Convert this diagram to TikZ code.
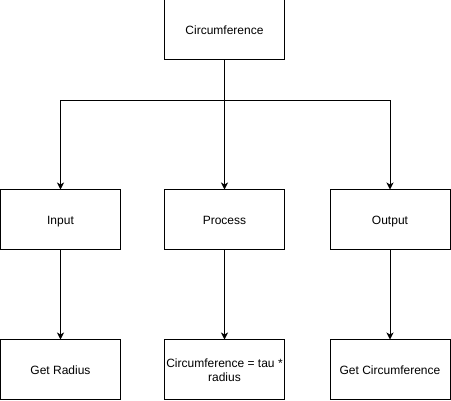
\documentclass[tikz,border=0pt]{standalone}
\usepackage{fontspec}
\setmainfont{Liberation Sans}
\usetikzlibrary{arrows.meta}
\begin{document}
\begin{tikzpicture}[x=1pt,y=-1pt,
  box/.style={draw, line width=1pt, minimum width=120pt, minimum height=60pt, inner sep=0pt, align=center, font=\fontsize{12}{14}\selectfont},
  onel/.style={text height=8.6pt, text depth=0pt},
  conn/.style={draw, line width=1pt, -{Stealth[length=7pt,width=7pt,inset=2pt]}}]
\useasboundingbox (0,0) rectangle (451,401);
\node[box,onel] (circ) at (224.5,30) {Circumference};
\node[box,onel] (inp) at (60.5,220) {Input};
\node[box,onel] (proc) at (224.5,220) {Process};
\node[box,onel] (outp) at (390,220) {Output};
\node[box,onel] (rad) at (60.5,370) {Get Radius};
\node[box] (calc) at (224.5,370) {Circumference = tau *\\ radius};
\node[box,onel] (gc) at (390,370) {Get Circumference};
\draw[conn] (circ.south) -- ++(0,40) -| (inp.north);
\draw[conn] (circ.south) -- (proc.north);
\draw[conn] (circ.south) -- ++(0,40) -| (outp.north);
\draw[conn] (inp.south) -- (rad.north);
\draw[conn] (proc.south) -- (calc.north);
\draw[conn] (outp.south) -- (gc.north);
\end{tikzpicture}
\end{document}
